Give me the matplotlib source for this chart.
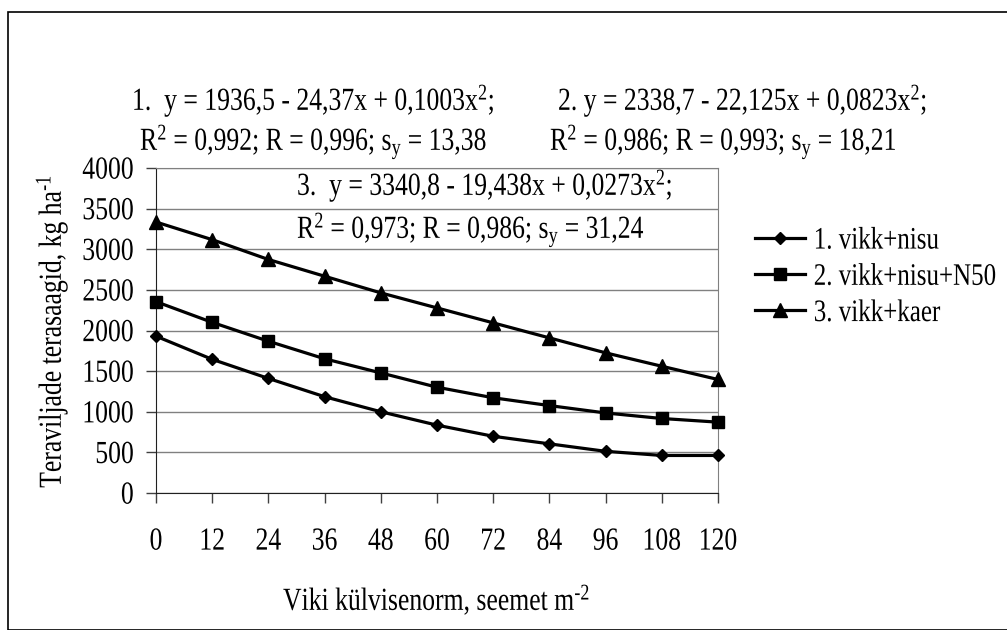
import matplotlib
matplotlib.use("Agg")
import matplotlib.pyplot as plt
from matplotlib.patches import Rectangle
from matplotlib.patheffects import AbstractPathEffect
from matplotlib.transforms import Affine2D

plt.rcParams['font.family'] = ['Liberation Serif', 'DejaVu Serif']
plt.rcParams['mathtext.fontset'] = 'custom'
plt.rcParams['mathtext.rm'] = 'Liberation Serif'
plt.rcParams['mathtext.it'] = 'Liberation Serif:italic'

# Seeding rate of vetch (seeds per m2) and cereal grain yields (kg/ha)
seed_rate = [0, 12, 24, 36, 48, 60, 72, 84, 96, 108, 120]
yield_wheat = [1930, 1645, 1410, 1185, 1000, 835, 698, 605, 513, 462, 462]
yield_wheat_n50 = [2355, 2100, 1868, 1652, 1478, 1302, 1172, 1076, 985, 917, 872]
yield_oats = [3335, 3118, 2874, 2668, 2463, 2278, 2094, 1909, 1725, 1560, 1397]

series_labels = ["1. vikk+nisu", "2. vikk+nisu+N50", "3. vikk+kaer"]
markers = ["D", "s", "^"]
marker_sizes = [6.4, 8, 9.5]


class TallText(AbstractPathEffect):
    """Stretch glyph outlines perpendicular to the baseline (narrow, tall type)."""

    def __init__(self, factor=1.25, pivot=0.0):
        super().__init__()
        self.factor = factor
        self.pivot = pivot

    def draw_path(self, renderer, gc, tpath, affine, rgbFace=None):
        pre = Affine2D().translate(0, -self.pivot).scale(1, self.factor).translate(0, self.pivot)
        renderer.draw_path(gc, tpath, pre + affine, rgbFace)


TALL = [TallText(1.25, 0.0)]
TALL_MID = [TallText(1.25, 33.0)]

W, H = 1007, 630
fig = plt.figure(figsize=(W / 100, H / 100), dpi=100)


def fx(px):
    return px / W


def fy(py):
    return 1 - py / H


# outer frame
fig.patches.append(Rectangle((fx(8), 0), 1.2, fy(12), transform=fig.transFigure,
                             fill=False, edgecolor='black', linewidth=1.2))

ax_l, ax_r, ax_t, ax_b = 156, 718, 168, 493
ax = fig.add_axes([fx(ax_l), fy(ax_b), (ax_r - ax_l) / W, (ax_b - ax_t) / H])

lines = []
for ys, lab, m, ms in zip([yield_wheat, yield_wheat_n50, yield_oats],
                          series_labels, markers, marker_sizes):
    ln, = ax.plot(seed_rate, ys, color='black', linewidth=2.3, marker=m,
                  markersize=ms, markerfacecolor='black', markeredgecolor='black',
                  label=lab, zorder=3, clip_on=False)
    lines.append(ln)

fs = 18.5
ax.set_xlim(0, 120)
ax.set_ylim(0, 4000)
ax.set_xticks(seed_rate)
ax.set_yticks(range(0, 4001, 500))
ax.yaxis.grid(True, color='#808080', linewidth=1.0)
ax.set_axisbelow(True)
ax.tick_params(axis='both', direction='out', length=7, width=1, labelsize=fs, color='#404040')
ax.tick_params(axis='x', pad=20)
ax.tick_params(axis='y', pad=9)
for side in ['top', 'right']:
    ax.spines[side].set_color('#808080')
for side in ['left', 'bottom']:
    ax.spines[side].set_color('#202020')
for t in ax.get_xticklabels() + ax.get_yticklabels():
    t.set_path_effects(TALL_MID)

# axis titles (superscript signs drawn with a short hyphen)
fig.text(fx(61), fy(331), "Teraviljade terasaagid, kg ha$^{\u20101}$", fontsize=fs,
         rotation=90, rotation_mode='anchor', ha='center', va='baseline', path_effects=TALL)
fig.text(fx(437), fy(610), "Viki külvisenorm, seemet m$^{\u20102}$", fontsize=fs,
         ha='center', va='baseline', path_effects=TALL)

# regression equations
equations = [
    (132, 110, "1.  y = 1936,5 - 24,37x + 0,1003x$^{2}$;"),
    (140, 150, "R$^{2}$ = 0,992; R = 0,996; s$_{\\mathrm{y}}$ = 13,38"),
    (558, 110, "2. y = 2338,7 - 22,125x + 0,0823x$^{2}$;"),
    (550, 150, "R$^{2}$ = 0,986; R = 0,993; s$_{\\mathrm{y}}$ = 18,21"),
    (297, 195, "3.  y = 3340,8 - 19,438x + 0,0273x$^{2}$;"),
    (297, 238, "R$^{2}$ = 0,973; R = 0,986; s$_{\\mathrm{y}}$ = 31,24"),
]
for x, y, s in equations:
    fig.text(fx(x), fy(y), s, fontsize=fs, va='baseline', path_effects=TALL)

leg = fig.legend(handles=lines, loc='upper left', bbox_to_anchor=(fx(755), fy(229)),
                 frameon=False, fontsize=18, handlelength=2.0, handletextpad=0.35,
                 labelspacing=0.55, borderaxespad=0, borderpad=0)
for t in leg.get_texts():
    t.set_path_effects(TALL_MID)

fig.savefig("out.png", dpi=100)
